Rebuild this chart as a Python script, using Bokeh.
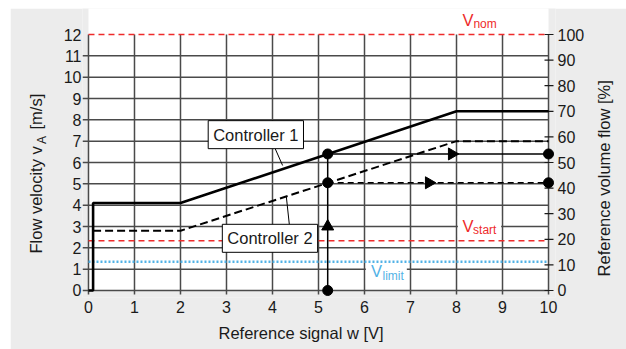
import math
from bokeh.plotting import figure
from bokeh.models import Range1d, LinearAxis, FixedTicker, Label, BoxAnnotation
from bokeh.embed import file_html
from bokeh.resources import INLINE

# ---------------- data ----------------
ctrl1_w = [0.0, 0.1, 0.1, 2.0, 8.0, 10.0]      # reference signal [V]
ctrl1_v = [0.0, 0.0, 4.1, 4.1, 8.4, 8.4]       # flow velocity [m/s]
ctrl2_w = [0.1, 2.0, 8.0, 10.0]
ctrl2_v = [2.8, 2.8, 7.0, 7.0]
v_nom = 12.0
v_start = 2.33
v_limit = 1.35
op_w = 5.2            # operating point signal
op_v1 = 6.4           # controller 1 velocity at op_w
op_v2 = 5.05          # controller 2 velocity at op_w
arrow1_w = 7.9
arrow2_w = 7.4
arrow_up_v = 3.0
x_ticks = list(range(0, 11))
y_ticks = list(range(0, 13))
grid_y = list(range(0, 12))
pct_ticks = list(range(0, 101, 10))
pct_full = 100.0

# ---------------- layout (pixels) ----------------
PXX = 46.1      # px per V
PXY = 21.333    # px per m/s
FONT = "Liberation Sans"
TXT = "#1a1a1a"
BG = "#ececec"
RED = "#ee2b2b"
BLUE = "#52b2e6"
GRID = "#4a4a4a"

def dx(px):   # pixel offset -> data units (x)
    return px / PXX

def dy(px):
    return px / PXY

x0, x1 = -dx(6), 10 + dx(7)
y0, y1 = -dy(7), 12 + dy(26)
scale = pct_full / v_nom

p = figure(width=616, height=341, output_backend="svg", toolbar_location=None,
           x_range=Range1d(x0, x1), y_range=Range1d(y0, y1), margin=(8, 0, 0, 10),
           min_border_left=71, min_border_right=71, min_border_top=0, min_border_bottom=52)
p.extra_y_ranges = {"pct": Range1d(y0 * scale, y1 * scale)}
p.background_fill_color = BG
p.border_fill_color = BG
p.outline_line_color = None
p.xgrid.visible = False
p.ygrid.visible = False

def style_axis(ax, standoff):
    ax.axis_line_color = None
    ax.major_tick_line_color = None
    ax.minor_tick_line_color = None
    ax.major_tick_out = 0
    ax.major_tick_in = 0
    ax.major_label_standoff = standoff
    ax.major_label_text_font = FONT
    ax.major_label_text_font_size = "16px"
    ax.major_label_text_color = TXT

p.xaxis.ticker = FixedTicker(ticks=x_ticks)
p.yaxis.ticker = FixedTicker(ticks=y_ticks)
style_axis(p.xaxis[0], 3)
style_axis(p.yaxis[0], 1)
ax_r = LinearAxis(y_range_name="pct", ticker=FixedTicker(ticks=pct_ticks))
style_axis(ax_r, 2)
p.add_layout(ax_r, "right")

# white plotting area (incl. band above the top line)
p.quad(left=[x_ticks[0]], right=[x_ticks[-1]], bottom=[0], top=[y1 + 1],
       fill_color="white", line_color=None)

# grid lines (with tick stubs outside)
p.segment(x0=[x0] * len(grid_y), y0=grid_y, x1=[x_ticks[-1]] * len(grid_y), y1=grid_y,
          line_color=GRID, line_width=1.5)
p.segment(x0=x_ticks, y0=[-dy(4)] * len(x_ticks), x1=x_ticks, y1=[y_ticks[-1]] * len(x_ticks),
          line_color=GRID, line_width=1.5)
p.segment(x0=[10 - dx(4)] * len(pct_ticks), y0=pct_ticks, x1=[10 + dx(5)] * len(pct_ticks),
          y1=pct_ticks, y_range_name="pct", line_color="#1a1a1a", line_width=1.2)

# reference velocity lines
p.line([x_ticks[0], x_ticks[-1]], [v_nom, v_nom], line_color=RED, line_width=1.5, line_dash="6 4")
p.line([x_ticks[0], x_ticks[-1]], [v_start, v_start], line_color=RED, line_width=1.5, line_dash="6 4")
p.line([x_ticks[0], x_ticks[-1]], [v_limit, v_limit], line_color=BLUE, line_width=2.5, line_dash="2 2")

# leader lines for controller labels
p.segment(x0=[4.06, 4.37], y0=[6.64, 3.01], x1=[4.22, 4.30], y1=[5.86, 4.41],
          line_color="black", line_width=1)

# controller characteristics
p.line(ctrl1_w, ctrl1_v, line_color="black", line_width=2.6)
p.line(ctrl2_w, ctrl2_v, line_color="black", line_width=2, line_dash="8 4")

# operating point construction
p.line([op_w, op_w], [0, op_v1], line_color="black", line_width=1.5)
p.line([op_w, x_ticks[-1]], [op_v1, op_v1], line_color="black", line_width=1.5)
p.line([op_w, x_ticks[-1]], [op_v2, op_v2], line_color="black", line_width=1.5, line_dash="6 4")
p.scatter([op_w, op_w, op_w, x_ticks[-1], x_ticks[-1]], [0, op_v1, op_v2, op_v1, op_v2],
          marker="circle", size=10, fill_color="black", line_color="black")
p.scatter([arrow1_w, arrow2_w], [op_v1, op_v2], marker="triangle", size=12,
          angle=-math.pi / 2, fill_color="black", line_color="black")
p.scatter([op_w], [arrow_up_v], marker="triangle", size=12, fill_color="black", line_color="black")

# white boxes behind V labels
p.add_layout(BoxAnnotation(left=8.03, right=8.97, bottom=2.5, top=3.5,
                           fill_color="white", fill_alpha=1, line_color=None))
p.add_layout(BoxAnnotation(left=6.03, right=6.92, bottom=0.28, top=1.27,
                           fill_color="white", fill_alpha=1, line_color=None))

def lab(x, y, text, size, color=TXT, align="left", baseline="alphabetic", angle=0,
        place="center", **kw):
    p.add_layout(Label(x=x, y=y, text=text, text_font=FONT, text_font_size=size,
                       text_color=color, text_align=align, text_baseline=baseline,
                       angle=angle, **kw), place)

# V labels
up = dy(6)
lab(8.128, 12.42 + up, "V", "16.5px", RED)
lab(8.367, 12.19 + up, "nom", "12px", RED)
lab(8.128, 2.733 + up, "V", "16.5px", RED)
lab(8.36, 2.555 + up, "start", "12px", RED)
lab(6.139, 0.623 + up, "V", "16.5px", BLUE)
lab(6.392, 0.398 + up, "limit", "12px", BLUE)

# controller labels
lab(3.638, 7.305, "Controller 1", "16.5px", align="center", baseline="middle",
    background_fill_color="white", border_line_color="black", border_line_width=1, padding=5)
lab(3.945, 2.447, "Controller 2", "16.5px", align="center", baseline="middle",
    background_fill_color="white", border_line_color="black", border_line_width=1, padding=5)

# axis titles (placed in the side panels so they are not clipped)
lab(4.62, -2.0, "Reference signal w [V]", "16.5px", align="center", baseline="middle",
    place="below")
lab(11.204, 5.367, "Reference volume flow  [%]", "16.5px", align="center", baseline="middle",
    angle=math.pi / 2, place="right")
lab(-1.15, 1.734, "Flow velocity v", "16.5px", baseline="middle", angle=math.pi / 2,
    place="left")
lab(-1.02, 6.867, "A", "12px", baseline="middle", angle=math.pi / 2, place="left")
lab(-1.15, 7.547, "[m/s]", "16.5px", baseline="middle", angle=math.pi / 2, place="left")

open("out.html", "w").write(file_html(p, INLINE))
